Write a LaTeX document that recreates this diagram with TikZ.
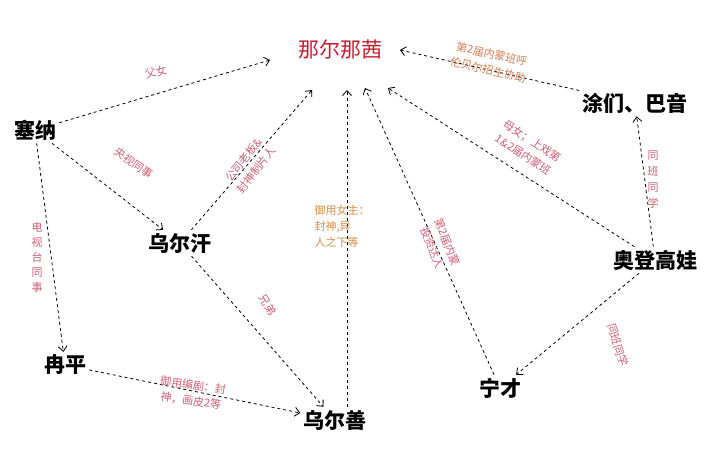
\documentclass[tikz,border=0pt]{standalone}
\usepackage{fontspec}
\setmainfont{Noto Sans CJK SC}
\usetikzlibrary{arrows.meta}
\definecolor{lab}{RGB}{205,95,115}
\definecolor{lab2}{RGB}{215,140,70}
\definecolor{nred}{RGB}{200,30,50}
\begin{document}
\begin{tikzpicture}[x=1pt,y=-1pt,
  person/.style={font=\fontsize{21}{24}\selectfont\bfseries,inner sep=3pt},
  rel/.style={draw,dashed,thick,-{Straight Barb[length=5pt,width=9pt]}},
  lbl/.style={font=\fontsize{11}{16}\selectfont,text=lab,align=center,inner sep=0pt}]
\useasboundingbox (0,0) rectangle (718,452);
\node[person,text=nred,font=\fontsize{21}{24}\selectfont] (n) at (340,50) {那尔那茜};
\node[person] (s) at (35,130) {塞纳};
\node[person] (h) at (180,243) {乌尔汗};
\node[person] (r) at (65,365) {冉平};
\node[person] (w) at (335,420) {乌尔善};
\node[person] (c) at (500,388) {宁才};
\node[person] (a) at (655,260) {奥登高娃};
\node[person] (t) at (635,103) {涂们、巴音};
\coordinate (n1) at (270,60);
\coordinate (n2) at (312,90);
\coordinate (n3) at (347,90);
\coordinate (n4) at (365,88);
\coordinate (n5) at (388,88);
\coordinate (n6) at (400,50);
\draw[rel] (s) -- (n1);
\draw[rel] (s) -- (h);
\draw[rel] (s) -- (r);
\draw[rel] (h) -- (n2);
\draw[rel] (h) -- (w);
\draw[rel] (r) -- (w);
\draw[rel] (w.north) ++(12,0) -- (n3);
\draw[rel] (c) -- (n4);
\draw[rel] (a) -- (n5);
\draw[rel] (t) -- (n6);
\draw[rel] (a) -- (t);
\draw[rel] (a) -- (c);
\node[lbl,rotate=15] (l1) at (156,72) {父女};
\node[lbl,rotate=-35] (l2) at (134,163) {央视同事};
\node[lbl,text width=12pt,font=\fontsize{11}{15}\selectfont] (l3) at (37,257) {电\\视\\台\\同\\事};
\node[lbl,rotate=52] (l4) at (250,165) {公司老板\&\\封神制片人};
\node[lbl,rotate=-58] (l5) at (268,305) {兄弟};
\node[lbl,rotate=-8] (l6) at (192,393) {御用编剧：封\\神，画皮2等};
\node[lbl,text=lab2,align=left] (l7) at (342,226) {御用女主：\\封神,异\\人之下等};
\node[lbl,rotate=-68] (l8) at (440,245) {第2届内蒙\\投资达人};
\node[lbl,rotate=-33] (l9) at (528,148) {母女；上戏第\\1\&2届内蒙班};
\node[lbl,rotate=-13,text=lab2!70!lab] (l10) at (490,62) {第2届内蒙班呼\\伦贝尔招生协助};
\node[lbl,text width=12pt,font=\fontsize{11}{16}\selectfont] (l11) at (653,180) {同\\班\\同\\学};
\node[lbl,rotate=-72] (l12) at (618,345) {同班同学};
\end{tikzpicture}
\end{document}
